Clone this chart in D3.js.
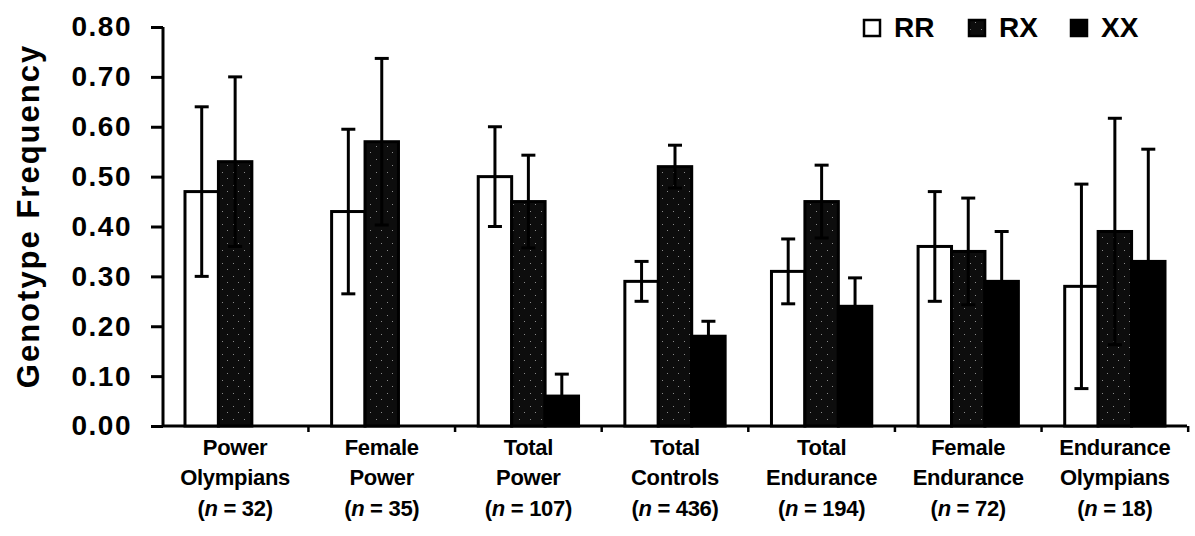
<!DOCTYPE html>
<html>
<head>
<meta charset="utf-8">
<script src="https://cdn.jsdelivr.net/npm/d3@7"></script>
<style>
  html, body { margin: 0; padding: 0; background: #fff; }
  svg { display: block; font-family: "Liberation Sans", Arial, Helvetica, sans-serif; }
</style>
</head>
<body>
<svg id="chart" width="1195" height="536"></svg>
<script>
// ---- data ----
const categories = ["Power Olympians", "Female Power", "Total Power", "Total Controls",
                    "Total Endurance", "Female Endurance", "Endurance Olympians"];
const labelLines = [["Power", "Olympians"], ["Female", "Power"], ["Total", "Power"],
                    ["Total", "Controls"], ["Total", "Endurance"], ["Female", "Endurance"],
                    ["Endurance", "Olympians"]];
const sampleN = [32, 35, 107, 436, 194, 72, 18];
const seriesNames = ["RR", "RX", "XX"];
const valuesRR = [0.47, 0.43, 0.50, 0.29, 0.31, 0.36, 0.28];
const valuesRX = [0.53, 0.57, 0.45, 0.52, 0.45, 0.35, 0.39];
const valuesXX = [0.00, 0.00, 0.06, 0.18, 0.24, 0.29, 0.33];
const errRR = [0.17, 0.165, 0.10, 0.04, 0.065, 0.11, 0.205];
const errRX = [0.17, 0.167, 0.093, 0.043, 0.073, 0.107, 0.227];
const errXX = [0, 0, 0.044, 0.03, 0.057, 0.10, 0.225];
const yTicks = [0, 0.1, 0.2, 0.3, 0.4, 0.5, 0.6, 0.7, 0.8];

const seriesValues = [valuesRR, valuesRX, valuesXX];
const seriesErrors = [errRR, errRX, errXX];

const svg = d3.select("#chart");

// pattern for RX (dark stippled)
const defs = svg.append("defs");
const pat = defs.append("pattern").attr("id", "stipple")
  .attr("width", 11).attr("height", 13).attr("patternUnits", "userSpaceOnUse");
pat.append("rect").attr("width", 11).attr("height", 13).attr("fill", "#0d0d0d");
[[2, 3], [7, 9]].forEach(([a, b]) =>
  pat.append("rect").attr("x", a).attr("y", b).attr("width", 1).attr("height", 1).attr("fill", "#8a8a8a"));

const fills = ["#ffffff", "url(#stipple)", "#000000"];

// ---- scales ----
const x0 = d3.scaleBand().domain(categories).range([163, 1187])
  .paddingInner(0.316).paddingOuter(0.15);
const x1 = d3.scaleBand().domain(seriesNames).range([0, x0.bandwidth()]).padding(0);
const y = d3.scaleLinear().domain([0, 0.8]).range([426, 27]);

// ---- axes ----
const yAxis = d3.axisLeft(y).tickValues(yTicks).tickFormat(d3.format(".2f"))
  .tickSize(12).tickPadding(19);
const gy = svg.append("g").attr("transform", "translate(163,0)").call(yAxis);
gy.select(".domain").attr("stroke", "#000").attr("stroke-width", 3)
  .attr("d", `M0,${y(0.8)}V${y(0)}`);
gy.selectAll(".tick line").attr("stroke", "#000").attr("stroke-width", 3);
gy.selectAll(".tick text").attr("font-size", 28).attr("font-weight", "bold")
  .attr("fill", "#000").attr("letter-spacing", 1.5)
  .attr("font-family", "'Liberation Sans', Arial, sans-serif");

// x baseline + boundary ticks
const step = x0.step();
svg.append("line").attr("x1", 163).attr("x2", 1187)
  .attr("y1", y(0)).attr("y2", y(0)).attr("stroke", "#000").attr("stroke-width", 3);
svg.append("g").selectAll("line").data(categories).join("line")
  .attr("x1", d => x0(d) + x0.bandwidth() + (step - x0.bandwidth()) / 2)
  .attr("x2", d => x0(d) + x0.bandwidth() + (step - x0.bandwidth()) / 2)
  .attr("y1", y(0)).attr("y2", y(0) + 6)
  .attr("stroke", "#000").attr("stroke-width", 2.5);

// ---- bars ----
const barData = [];
categories.forEach((c, i) => {
  seriesNames.forEach((s, j) => {
    barData.push({ cat: c, ser: s, j, v: seriesValues[j][i], e: seriesErrors[j][i] });
  });
});
const drawn = barData.filter(d => d.v > 0);

svg.append("g").selectAll("rect").data(drawn).join("rect")
  .attr("x", d => x0(d.cat) + x1(d.ser))
  .attr("y", d => y(d.v))
  .attr("width", x1.bandwidth())
  .attr("height", d => y(0) - y(d.v))
  .attr("fill", d => fills[d.j])
  .attr("stroke", "#000").attr("stroke-width", 3);

// ---- error bars ----
const eg = svg.append("g").attr("stroke", "#000").attr("stroke-width", 3);
drawn.filter(d => d.e > 0).forEach(d => {
  const cx = x0(d.cat) + x1(d.ser) + x1.bandwidth() / 2;
  const top = y(d.v + d.e), bot = y(d.v - d.e);
  eg.append("line").attr("x1", cx).attr("x2", cx).attr("y1", top).attr("y2", bot);
  eg.append("line").attr("x1", cx - 7).attr("x2", cx + 7).attr("y1", top).attr("y2", top);
  eg.append("line").attr("x1", cx - 7).attr("x2", cx + 7).attr("y1", bot).attr("y2", bot);
});

// ---- x labels ----
const xl = svg.append("g").attr("font-size", 22).attr("font-weight", "bold")
  .attr("text-anchor", "middle").attr("fill", "#000");
categories.forEach((c, i) => {
  const cx = x0(c) + x0.bandwidth() / 2;
  const t = xl.append("text").attr("x", cx).attr("y", 455).attr("letter-spacing", -0.3);
  t.append("tspan").attr("x", cx).attr("dy", 0).text(labelLines[i][0]);
  t.append("tspan").attr("x", cx).attr("dy", 30).text(labelLines[i][1]);
  const t3 = t.append("tspan").attr("x", cx).attr("dy", 31);
  t3.append("tspan").text("(");
  t3.append("tspan").attr("font-style", "italic").text("n");
  t3.append("tspan").text(" = " + sampleN[i] + ")");
});

// ---- y axis title ----
svg.append("text")
  .attr("transform", "translate(39,216) rotate(-90)")
  .attr("text-anchor", "middle")
  .attr("font-size", 31).attr("font-weight", "bold").attr("letter-spacing", 2)
  .attr("fill", "#000")
  .text("Genotype Frequency");

// ---- legend ----
const legendX = [863, 968, 1070];
const lg = svg.append("g");
seriesNames.forEach((s, j) => {
  lg.append("rect").attr("x", legendX[j] + 1).attr("y", 20).attr("width", 16).attr("height", 16)
    .attr("fill", fills[j]).attr("stroke", "#000").attr("stroke-width", 2.5);
  lg.append("text").attr("x", legendX[j] + 31).attr("y", 37)
    .attr("font-size", 28).attr("font-weight", "bold").attr("fill", "#000")
    .text(s);
});
</script>
</body>
</html>
